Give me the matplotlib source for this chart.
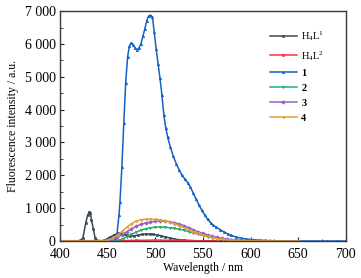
import matplotlib
matplotlib.use("Agg")
import matplotlib.pyplot as plt
from matplotlib.ticker import MultipleLocator, FuncFormatter

plt.rcParams['font.family'] = ['Liberation Serif', 'DejaVu Serif']
plt.rcParams['mathtext.fontset'] = 'custom'
plt.rcParams['mathtext.rm'] = 'Liberation Serif'
plt.rcParams['mathtext.it'] = 'Liberation Serif:italic'
plt.rcParams['mathtext.bf'] = 'Liberation Serif:bold'

# ---- data ----
x_h4l1 = [400, 410, 420, 424, 427, 429, 431, 432, 433, 435, 437, 440, 445, 449, 453, 457, 461, 464, 467,
          470, 474, 478, 482, 486, 490, 494, 498, 502, 506, 510, 515, 520, 525, 530, 540, 550, 560, 580,
          600, 625, 650]
y_h4l1 = [0, 0, 0, 80, 540, 780, 890, 860, 650, 380, 80, 10, 10, 60, 120, 190, 230, 240, 210,
          170, 150, 160, 180, 200, 210, 215, 205, 185, 160, 130, 95, 60, 40, 25, 12, 5, 2, 0,
          0, 0, 0]

x_h4l2 = [400, 420, 440, 460, 480, 500, 520, 550, 600, 650]
y_h4l2 = [0, 0, 0, 10, 20, 30, 20, 5, 0, 0]

x_c1 = [400, 410, 420, 430, 440, 450, 455, 458, 460, 462, 463, 465, 467, 469, 471, 473, 475, 477, 479,
        481, 483, 485, 487, 489, 491, 493, 495, 497, 499, 501, 503, 505, 507, 509, 511, 513, 516, 519,
        522, 525, 528, 531, 534, 537, 540, 543, 546, 549, 552, 555, 558, 561, 564, 568, 572, 576, 580,
        585, 590, 595, 600, 605, 610, 615, 620, 630, 640, 650, 660, 670, 680, 690, 700]
y_c1 = [0, 0, 0, 0, 5, 15, 40, 100, 250, 800, 1200, 2250, 3580, 4820, 5610, 5950, 6040, 5980, 5870,
        5820, 5880, 6000, 6230, 6450, 6700, 6850, 6870, 6830, 6350, 5850, 5400, 4950, 4450, 3850, 3450,
        3170, 2850, 2580, 2360, 2170, 2010, 1890, 1780, 1640, 1450, 1270, 1090, 930, 790, 660, 560, 480,
        420, 350, 280, 220, 170, 120, 90, 65, 48, 35, 25, 18, 12, 6, 3, 2, 0, 0, 0, 0, 0]

x_c2 = [400, 420, 440, 450, 458, 462, 466, 470, 475, 480, 485, 490, 495, 500, 505, 510, 515, 520, 525,
        530, 535, 540, 545, 550, 555, 560, 565, 570, 580, 590, 600, 620, 650]
y_c2 = [0, 0, 0, 0, 10, 30, 70, 130, 200, 270, 330, 375, 405, 420, 425, 420, 405, 385, 360,
        330, 290, 250, 210, 170, 135, 105, 80, 60, 35, 20, 10, 4, 0]

x_c3 = [400, 420, 440, 450, 455, 460, 465, 470, 475, 480, 485, 490, 495, 500, 505, 510, 515, 520, 525,
        530, 535, 540, 545, 550, 555, 560, 565, 570, 575, 580, 590, 600, 620, 650]
y_c3 = [10, 10, 10, 20, 50, 110, 190, 280, 370, 450, 510, 550, 580, 600, 610, 605, 590, 560, 520,
        470, 410, 345, 280, 230, 185, 145, 110, 85, 62, 45, 25, 12, 5, 0]

x_c4 = [400, 420, 440, 445, 450, 455, 460, 465, 470, 475, 480, 485, 490, 495, 500, 505, 510, 515, 520,
        525, 530, 535, 540, 545, 550, 555, 560, 565, 570, 575, 580, 590, 600, 620, 650]
y_c4 = [5, 5, 5, 10, 30, 80, 170, 290, 420, 530, 610, 650, 665, 665, 660, 650, 620, 580, 530,
        470, 410, 350, 290, 235, 185, 145, 105, 75, 55, 38, 28, 15, 8, 3, 0]

labels = [r'H$\mathregular{_4}$L$\mathregular{^1}$', r'H$\mathregular{_4}$L$\mathregular{^2}$',
          '1', '2', '3', '4']
colors = ['#3b4852', '#ff3344', '#1462c2', '#22b06e', '#9561c8', '#e2a131']
markers = ['s', 'o', '^', 'v', 'D', '<']

xs = [x_h4l1, x_h4l2, x_c1, x_c2, x_c3, x_c4]
ys = [y_h4l1, y_h4l2, y_c1, y_c2, y_c3, y_c4]

fig = plt.figure(figsize=(3.61, 2.78), dpi=100)
ax = fig.add_axes([0.166, 0.133, 0.792, 0.827])

for x, y, lab, c, m in zip(xs, ys, labels, colors, markers):
    ax.plot(x, y, color=c, marker=m, markersize=1.8, linewidth=1.1, label=lab,
            markeredgewidth=0.4)

ax.set_xlim(400, 700)
ax.set_ylim(0, 7000)
ax.xaxis.set_major_locator(MultipleLocator(50))
ax.xaxis.set_minor_locator(MultipleLocator(25))
ax.yaxis.set_major_locator(MultipleLocator(1000))
ax.yaxis.set_minor_locator(MultipleLocator(500))
ax.yaxis.set_major_formatter(FuncFormatter(lambda v, p: f"{int(v):,}".replace(",", " ")))
ax.tick_params(which='both', direction='in', colors='#222222', labelsize=10)
ax.tick_params(axis='x', pad=5)
ax.tick_params(axis='y', pad=3)
ax.tick_params(which='major', length=3, width=0.8)
ax.tick_params(which='minor', length=1.8, width=0.6)
ax.tick_params(axis='both', labelcolor='black')
for s in ax.spines.values():
    s.set_color('#3a3a3a')
    s.set_linewidth(1.0)

ax.set_xlabel('Wavelength / nm', fontsize=8.5, labelpad=1)
ax.set_ylabel('Fluorescence intensity / a.u.', fontsize=8.5, labelpad=4)

leg = ax.legend(loc='upper left', bbox_to_anchor=(0.72, 0.94), frameon=False, fontsize=7.5,
                handlelength=2.6, handletextpad=0.4, labelspacing=0.55, borderaxespad=0)
for t in leg.get_texts()[2:]:
    t.set_fontweight('bold')

fig.savefig('out.png', dpi=100)
